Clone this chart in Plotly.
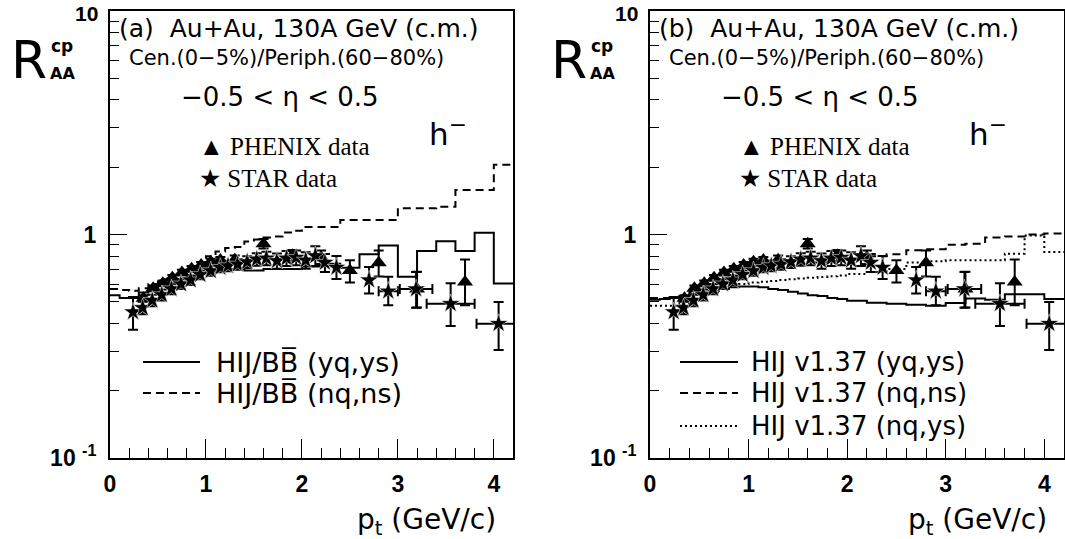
import plotly.graph_objects as go

W, H = 1065, 539

# ---------------- data ----------------
phenix_pt = [0.35, 0.45, 0.55, 0.65, 0.75, 0.85, 0.95, 1.05, 1.15, 1.30, 1.60, 1.90, 2.20, 2.50, 2.80, 3.20, 3.70]
phenix_r = [0.519, 0.575, 0.605, 0.640, 0.676, 0.702, 0.731, 0.755, 0.768, 0.770, 0.910, 0.808, 0.792, 0.690, 0.748, 0.571, 0.613]
phenix_eu = [0.016, 0.017, 0.018, 0.019, 0.020, 0.021, 0.022, 0.023, 0.025, 0.035, 0.045, 0.045, 0.055, 0.077, 0.100, 0.110, 0.160]
phenix_ed = [0.016, 0.017, 0.018, 0.019, 0.020, 0.021, 0.022, 0.023, 0.025, 0.035, 0.045, 0.045, 0.055, 0.080, 0.100, 0.100, 0.130]

star_pt = [0.24, 0.34, 0.44, 0.54, 0.64, 0.74, 0.84, 0.94, 1.05, 1.15, 1.23, 1.33, 1.43, 1.53, 1.63, 1.74,
           1.84, 1.94, 2.04, 2.14, 2.24, 2.36, 2.70, 2.90, 3.19, 3.55, 4.05]
star_r = [0.450, 0.470, 0.507, 0.537, 0.571, 0.600, 0.625, 0.661, 0.688, 0.712, 0.724, 0.736, 0.754, 0.775, 0.783, 0.762,
          0.783, 0.788, 0.767, 0.802, 0.749, 0.712, 0.625, 0.557, 0.570, 0.490, 0.399]
star_eu = [0.075, 0.030, 0.030, 0.030, 0.030, 0.030, 0.030, 0.030, 0.035, 0.035, 0.040, 0.040, 0.045, 0.050, 0.055, 0.060,
           0.060, 0.060, 0.065, 0.085, 0.070, 0.090, 0.090, 0.090, 0.110, 0.115, 0.100]
star_ed = [0.075, 0.030, 0.030, 0.030, 0.030, 0.030, 0.030, 0.030, 0.035, 0.035, 0.040, 0.040, 0.045, 0.050, 0.055, 0.060,
           0.060, 0.060, 0.065, 0.080, 0.070, 0.080, 0.080, 0.075, 0.100, 0.100, 0.095]
star_xerr = [0] * 23 + [0.10, 0.17, 0.25, 0.23]

# histogram bin left edges (last bin ends at 4.2)
bins = [0.0, 0.1, 0.2, 0.3, 0.4, 0.5, 0.6, 0.7, 0.8, 0.9, 1.0, 1.1, 1.2, 1.3, 1.4, 1.5, 1.6, 1.7, 1.8, 1.9,
        2.0, 2.2, 2.4, 2.6, 2.8, 3.0, 3.2, 3.4, 3.6, 3.8, 4.0]
bins_end = 4.2

# panel (a): HIJING/BBbar
bb_yq_ys = [0.535, 0.52, 0.52, 0.55, 0.57, 0.59, 0.61, 0.63, 0.65, 0.67, 0.68, 0.69, 0.70, 0.70, 0.69, 0.69, 0.70, 0.70,
            0.70, 0.70, 0.72, 0.74, 0.71, 0.815, 0.894, 0.647, 0.844, 0.934, 0.844, 1.017, 0.604]
bb_nq_ns = [0.57, 0.565, 0.56, 0.575, 0.60, 0.63, 0.66, 0.69, 0.72, 0.75, 0.80, 0.84, 0.87, 0.88, 0.93, 0.95, 0.97, 0.98,
            1.02, 1.04, 1.08, 1.08, 1.16, 1.16, 1.16, 1.31, 1.31, 1.33, 1.58, 1.58, 2.05]

# panel (b): HIJING v1.37
v137_yq_ys = [0.51, 0.515, 0.52, 0.53, 0.54, 0.55, 0.56, 0.57, 0.58, 0.585, 0.585, 0.58, 0.57, 0.565, 0.555, 0.545,
              0.535, 0.53, 0.52, 0.515, 0.505, 0.495, 0.49, 0.485, 0.48, 0.494, 0.517, 0.51, 0.541, 0.541, 0.514]
v137_nq_ns = [0.52, 0.52, 0.52, 0.53, 0.55, 0.58, 0.60, 0.63, 0.65, 0.67, 0.69, 0.70, 0.71, 0.72, 0.73, 0.74,
              0.75, 0.75, 0.76, 0.76, 0.78, 0.80, 0.815, 0.85, 0.86, 0.90, 0.91, 0.97, 0.98, 1.00, 1.01]
v137_nq_ys = [0.48, 0.48, 0.48, 0.49, 0.51, 0.53, 0.55, 0.57, 0.59, 0.60, 0.61, 0.615, 0.62, 0.625, 0.63, 0.635,
              0.64, 0.645, 0.65, 0.655, 0.665, 0.68, 0.70, 0.75, 0.76, 0.767, 0.767, 0.767, 0.82, 0.99, 0.836]

x_ticks = [0, 1, 2, 3, 4]
x_ticktext = ["<b>0</b>", "<b>1</b>", "<b>2</b>", "<b>3</b>", "<b>4</b>"]
y_ticks = [0.1, 1]
y_ticktext = ["<b>10</b> <sup><b>-1</b></sup>", "<b>1</b>"]
y_top_label = "<b>10</b>"
y_minor = [0.2, 0.3, 0.4, 0.5, 0.6, 0.7, 0.8, 0.9, 2, 3, 4, 5, 6, 7, 8, 9]

panels = [
    dict(label="(a)", curves=[(bb_yq_ys, "solid", "HIJ/BB\u0305 (yq,ys)"),
                              (bb_nq_ns, "8px,5px", "HIJ/BB\u0305 (nq,ns)")]),
    dict(label="(b)", curves=[(v137_yq_ys, "solid", "HIJ v1.37 (yq,ys)"),
                              (v137_nq_ns, "8px,5px", "HIJ v1.37 (nq,ns)"),
                              (v137_nq_ys, "2px,3px", "HIJ v1.37 (nq,ys)")]),
]

# pixel geometry of the two frames
frames = [(110, 513), (650, 1064)]
top_px, bot_px = 11, 458

fig = go.Figure()
annotations = []
shapes = []

SANS = "DejaVu Sans"
SERIF = "Liberation Serif"


def px(X, Y):
    return X / W, 1 - Y / H


def ann(text, X, Y, size, family=SANS, xanchor="left", yanchor="middle"):
    x, y = px(X, Y)
    annotations.append(dict(text=text, x=x, y=y, xref="paper", yref="paper", showarrow=False,
                            xanchor=xanchor, yanchor=yanchor, borderpad=0,
                            font=dict(family=family, size=size, color="black")))


for i, p in enumerate(panels):
    n = "" if i == 0 else str(i + 1)
    xr, yr = "x" + n, "y" + n
    x0, x1 = frames[i]
    off = x0 - 110

    for vals, dash, _ in p["curves"]:
        fig.add_trace(go.Scatter(x=bins + [bins_end], y=vals + [vals[-1]], xaxis=xr, yaxis=yr,
                                 mode="lines", line=dict(shape="hv", color="black", width=2, dash=dash),
                                 hoverinfo="skip", showlegend=False))

    fig.add_trace(go.Scatter(x=phenix_pt, y=phenix_r, xaxis=xr, yaxis=yr, mode="markers",
                             marker=dict(symbol="triangle-up", size=14, color="black"),
                             error_y=dict(type="data", symmetric=False, array=phenix_eu, arrayminus=phenix_ed,
                                          color="black", thickness=2, width=5),
                             showlegend=False, name="PHENIX data"))
    hx = [k for k, e in enumerate(star_xerr) if e > 0]
    fig.add_trace(go.Scatter(x=[star_pt[k] for k in hx], y=[star_r[k] for k in hx], xaxis=xr, yaxis=yr,
                             mode="markers", marker=dict(size=1, color="rgba(0,0,0,0)"),
                             error_x=dict(type="data", array=[star_xerr[k] for k in hx],
                                          color="black", thickness=2, width=5),
                             showlegend=False, hoverinfo="skip"))
    fig.add_trace(go.Scatter(x=star_pt, y=star_r, xaxis=xr, yaxis=yr, mode="markers",
                             marker=dict(symbol="star", size=14, color="black",
                                         line=dict(color="white", width=0.5)),
                             error_y=dict(type="data", symmetric=False, array=star_eu, arrayminus=star_ed,
                                          color="black", thickness=2, width=5),
                             showlegend=False, name="STAR data"))

    xd = [x0 / W, x1 / W]
    yd = [1 - bot_px / H, 1 - top_px / H]
    tf = dict(family="Liberation Sans", size=23, color="black")
    fig.update_layout(**{
        "xaxis" + n: dict(domain=xd, anchor=yr, range=[0, 4.2], tickvals=x_ticks, ticktext=x_ticktext,
                          ticks="inside", ticklen=19,
                          tickwidth=1, tickcolor="black", showline=True, mirror=True, linewidth=2,
                          linecolor="black", showgrid=False, zeroline=False, ticklabelstandoff=4,
                          tickfont=tf, automargin=False, ticklabeloverflow="allow",
                          minor=dict(dtick=0.2, ticks="inside", ticklen=10, tickwidth=1, tickcolor="black")),
        "yaxis" + n: dict(domain=yd, anchor=xr, type="log", range=[-1, 1], tickvals=y_ticks,
                          ticktext=y_ticktext, ticks="inside", ticklen=17, tickwidth=1, tickcolor="black",
                          showline=True, mirror=True, linewidth=2, linecolor="black", showgrid=False,
                          zeroline=False, ticklabelstandoff=7, tickfont=tf, automargin=False,
                          ticklabeloverflow="allow",
                          minor=dict(tickvals=y_minor, ticks="inside", ticklen=9, tickwidth=1,
                                     tickcolor="black")),
    })

    # top y label (kept inside the page)
    ann(y_top_label, 99 + off, 1, 21, family="Liberation Sans", xanchor="right", yanchor="top")

    # header texts
    ann(p["label"] + "  Au+Au, 130A GeV (c.m.)", 118 + off, 28, 25)
    ann("Cen.(0\u22125%)/Periph.(60\u221280%)", 128 + off, 58, 21)
    ann("\u22120.5 < \u03b7 < 0.5", 180 + off, 97, 26)
    ann("h<sup>\u2212</sup>", 428 + off, 132, 31)
    ann("\u25b2 PHENIX data", 198 + off, 146, 25, family=SERIF)
    ann("\u2605 STAR data", 198 + off, 178, 25, family=SERIF)

    # axis titles
    ann("R", 10 + off, 60, 52)
    ann("<b>cp</b>", 50 + off, 46, 17)
    ann("<b>AA</b>", 49 + off, 74, 16)
    ann("p<sub>t</sub> (GeV/c)", x1 - 16, 521, 28, xanchor="right")

    # legend
    ly = [362, 393, 426]
    lx0, lx1, tx, ls = (143, 200, 215, 27) if i == 0 else (680, 738, 750, 26)
    for k, (vals, dash, label) in enumerate(p["curves"]):
        a0, b0 = px(lx0, ly[k])
        a1, _ = px(lx1, ly[k])
        shapes.append(dict(type="line", xref="paper", yref="paper", x0=a0, x1=a1, y0=b0, y1=b0,
                           line=dict(color="black", width=2, dash=dash)))
        ann(label, tx, ly[k], ls)

fig.update_layout(width=W, height=H, margin=dict(l=0, r=0, t=0, b=0, pad=0), autosize=False,
                  plot_bgcolor="white", paper_bgcolor="white", showlegend=False,
                  annotations=annotations, shapes=shapes)

fig.write_html("out.html", config={"displayModeBar": False},
               post_script="document.body.style.margin='0px';document.body.style.overflow='hidden';")
